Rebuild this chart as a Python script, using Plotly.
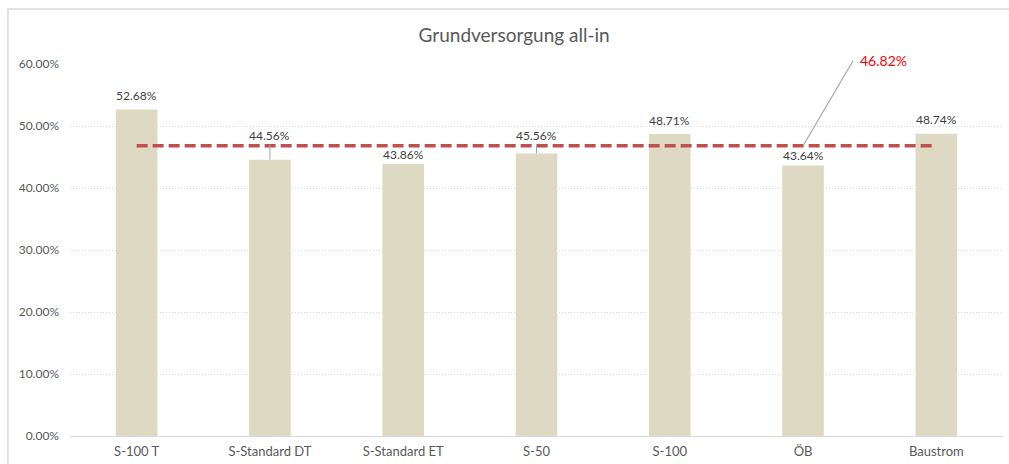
import plotly.graph_objects as go

categories = ['S-100 T', 'S-Standard DT', 'S-Standard ET', 'S-50', 'S-100', 'ÖB', 'Baustrom']
shares = [0.5268, 0.4456, 0.4386, 0.4556, 0.4871, 0.4364, 0.4874]
average = 0.4682
y_ticks = [0.0, 0.1, 0.2, 0.3, 0.4, 0.5, 0.6]

FONT = 'Lato'
BAR_COLOR = '#DDD9C3'
LINE_COLOR = '#C0504D'
GRID_COLOR = '#D9D9D9'
TEXT_COLOR = '#404040'
AXIS_TEXT = '#595959'

# label offsets above bar top (px); labels pushed up get a leader line
label_offsets = {'S-100 T': 14, 'S-Standard DT': 24, 'S-Standard ET': 10, 'S-50': 18,
                 'S-100': 14, 'ÖB': 10, 'Baustrom': 14}
leader = {'S-Standard DT', 'S-50'}

fig = go.Figure()
fig.add_trace(go.Bar(
    x=categories,
    y=shares,
    marker_color=BAR_COLOR,
    marker_line_width=0,
    hoverinfo='skip',
))
fig.add_trace(go.Scatter(
    x=categories,
    y=[average] * len(categories),
    mode='lines',
    line=dict(color=LINE_COLOR, width=3.5, dash='11px,5px'),
    hoverinfo='skip',
))

annotations = []
for cat, val in zip(categories, shares):
    off = label_offsets[cat]
    if cat in leader:
        annotations.append(dict(
            x=cat, y=val, text=f'{val * 100:.2f}%', showarrow=True, arrowhead=0,
            arrowwidth=1, arrowcolor='#A6A6A6', ax=0, ay=-off, standoff=0,
            font=dict(family=FONT, size=12, color=TEXT_COLOR),
        ))
    else:
        annotations.append(dict(
            x=cat, y=val, text=f'{val * 100:.2f}%', showarrow=False,
            yanchor='middle', yshift=off,
            font=dict(family=FONT, size=12, color=TEXT_COLOR),
        ))

# average label with leader line
annotations.append(dict(
    x=categories[5], y=average, text=f'{average * 100:.2f}%', showarrow=True,
    arrowhead=0, arrowwidth=1.2, arrowcolor='#A6A6A6', ax=50, ay=-85,
    xanchor='left', yanchor='middle', borderpad=6,
    font=dict(family=FONT, size=14, color='#FF0000'),
))

fig.update_layout(
    width=1009,
    height=464,
    margin=dict(l=70, r=6, t=64, b=28),
    paper_bgcolor='white',
    plot_bgcolor='white',
    showlegend=False,
    bargap=0.688,
    font=dict(family=FONT, size=12, color=AXIS_TEXT),
    title=dict(
        text='Grundversorgung all-in',
        x=0.476, xref='paper', xanchor='center',
        y=1 - 35 / 464, yanchor='middle',
        font=dict(family=FONT, size=19, color=AXIS_TEXT),
    ),
    annotations=annotations,
    shapes=[dict(
        type='rect', xref='paper', yref='paper',
        x0=-0.0665, x1=1.02, y0=-0.3, y1=1.148,
        line=dict(color=GRID_COLOR, width=1.5), fillcolor='rgba(0,0,0,0)',
        layer='below',
    )],
)
fig.update_xaxes(
    showline=True, linecolor=GRID_COLOR, linewidth=1, automargin=False,
    showgrid=False, ticks='', ticklabelstandoff=3,
    tickfont=dict(family=FONT, size=13, color=AXIS_TEXT),
)
fig.update_yaxes(
    range=[0, 0.6], tickvals=y_ticks, tickformat='.2%', automargin=False,
    showgrid=True, gridcolor=GRID_COLOR, griddash='1px,2px', gridwidth=1,
    zeroline=False, showline=False, ticks='', ticklabelstandoff=10,
    tickfont=dict(family=FONT, size=12, color=AXIS_TEXT),
)

fig.write_html('out.html', config={'displayModeBar': False},
               post_script="document.body.style.margin='0';")
